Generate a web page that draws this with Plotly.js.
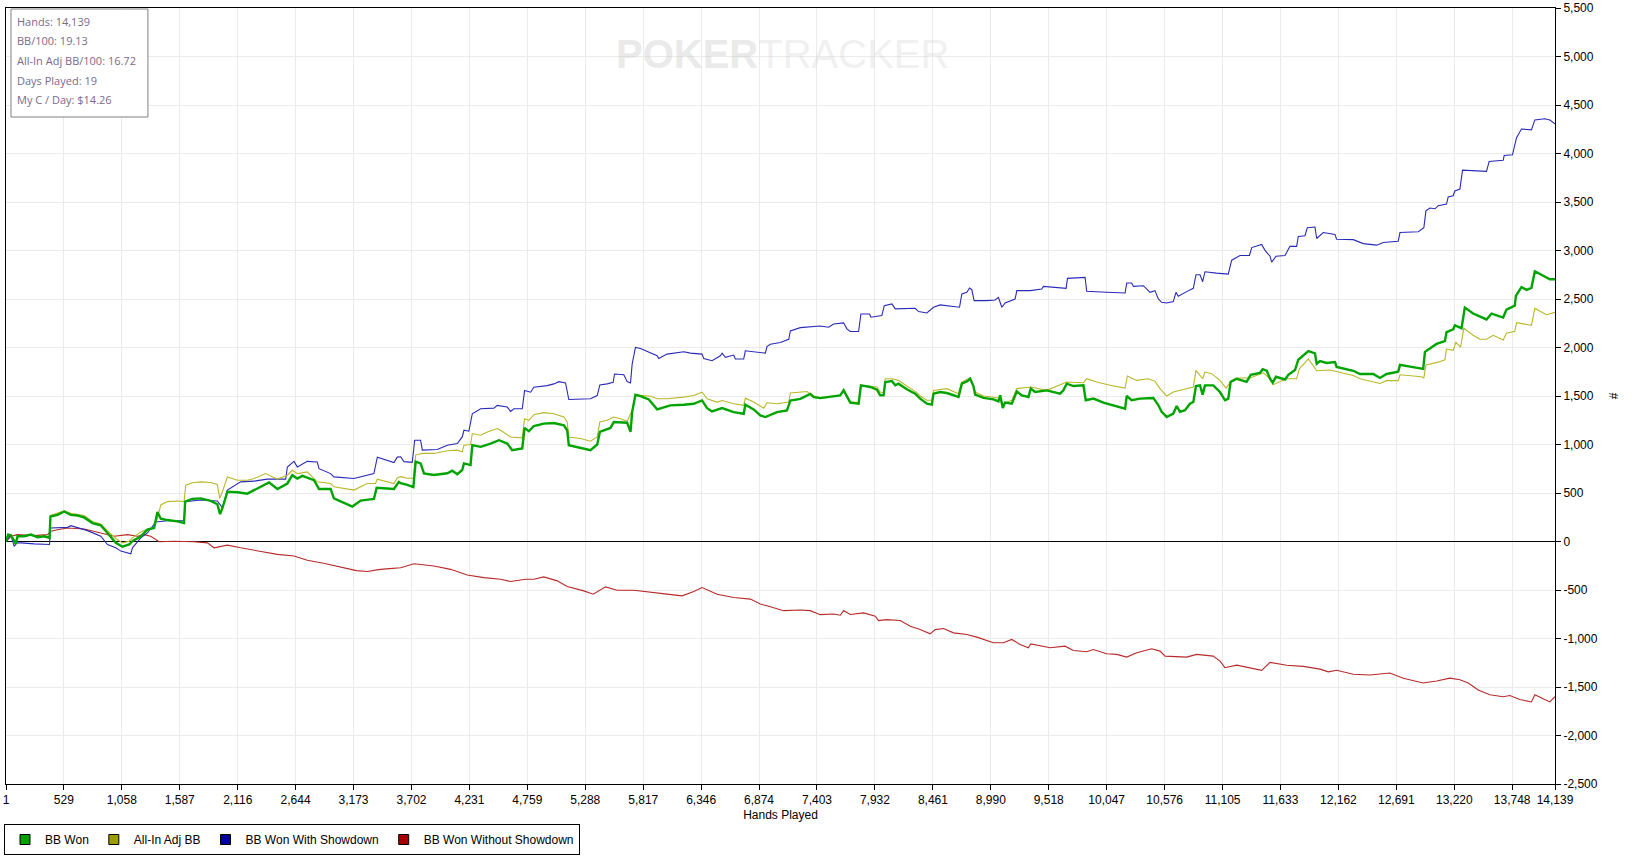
<!DOCTYPE html>
<html>
<head>
<meta charset="utf-8">
<script src="https://cdn.plot.ly/plotly-3.0.1.min.js"></script>
<style>html,body{margin:0;padding:0;background:#fff;}#chart{width:1635px;height:863px;}</style>
</head>
<body>
<div id="chart"></div>
<script>
// ---------- data ----------
const xTickVals = [1,529,1058,1587,2116,2644,3173,3702,4231,4759,5288,5817,6346,6874,7403,7932,8461,8990,9518,10047,10576,11105,11633,12162,12691,13220,13748,14139];
const xTickText = ["1","529","1,058","1,587","2,116","2,644","3,173","3,702","4,231","4,759","5,288","5,817","6,346","6,874","7,403","7,932","8,461","8,990","9,518","10,047","10,576","11,105","11,633","12,162","12,691","13,220","13,748","14,139"];
const yTickVals = [-2500,-2000,-1500,-1000,-500,0,500,1000,1500,2000,2500,3000,3500,4000,4500,5000,5500];
const yTickText = ["-2,500","-2,000","-1,500","-1,000","-500","0","500","1,000","1,500","2,000","2,500","3,000","3,500","4,000","4,500","5,000","5,500"];

const seriesNames = ["BB Won","All-In Adj BB","BB Won With Showdown","BB Won Without Showdown"];

const bbWonHands = [1,21,46,76,91,106,167,228,289,350,398,407,471,532,593,654,714,790,866,927,1003,1064,1125,1155,1231,1292,1353,1383,1414,1474,1566,1626,1636,1702,1778,1870,1930,1955,1976,2022,2113,2204,2265,2356,2402,2478,2569,2614,2660,2706,2812,2858,2964,2994,3086,3162,3238,3359,3384,3450,3542,3587,
3603,3664,3719,3740,3785,3816,3907,4029,4074,4120,4165,4181,4241,4257,4333,4424,4500,4576,4621,4713,4734,4773,4819,4910,5001,5093,5123,5138,5245,5336,5397,5421,5518,5549,5670,5701,5716,5746,5792,5868,5944,6005,6065,6187,6278,6354,6400,6445,6537,6643,6734,6749,6825,6886,6932,7038,7129,7160,7251,7342,7373,7433,
7524,7615,7646,7676,7707,7783,7804,7889,7950,7980,8011,8026,8087,8117,8147,8223,8299,8345,8406,8451,8467,8527,8588,8695,8725,8771,8801,8831,8847,8923,9014,9059,9075,9099,9120,9181,9227,9272,9333,9354,9394,9500,9622,9652,9683,9743,9835,9856,9926,10017,10078,10215,10230,10275,10351,10473,10519,10549,10595,10655,10686,10716,10762,10807,10838,10862,10899,10923,10944,11020,11081,11127,11157,11178,
11234,11325,11362,11447,11471,11508,11538,11562,11593,11675,11705,11766,11796,11842,11888,11948,11964,11994,12055,12131,12146,12298,12359,12480,12541,12602,12708,12724,12845,12936,12952,13058,13134,13149,13210,13225,13286,13316,13392,13453,13514,13560,13666,13696,13772,13782,13833,13879,13924,13955,14000,14092,14139];
const bbWonValues = [0,71,65,3,-24,54,54,71,44,54,37,258,275,309,275,268,248,190,167,88,-14,-54,-31,3,54,122,139,303,235,221,207,190,411,439,445,418,384,282,343,513,507,493,527,581,609,541,598,683,649,677,632,541,541,445,394,360,422,439,554,547,541,615,
601,584,560,823,805,703,686,703,730,693,737,805,788,993,976,1010,1044,1010,942,959,1171,1137,1191,1215,1222,1198,1147,993,966,942,1000,1130,1171,1232,1225,1130,1334,1512,1498,1464,1362,1386,1403,1410,1420,1454,1375,1341,1375,1334,1317,1410,1362,1300,1283,1334,1352,1454,1471,1522,1488,1478,
1490,1507,1558,1490,1432,1421,1610,1593,1565,1507,1507,1644,1654,1610,1627,1569,1524,1473,1421,1411,1524,1541,1531,1490,1627,1651,1678,1603,1514,1480,1466,1445,1507,1377,1432,1421,1548,1507,1490,1576,1541,1558,1524,1558,1627,1603,1610,1456,1473,1432,1411,1370,1500,1456,1473,1480,1404,1336,1284,1319,1397,1336,1353,1421,1438,1603,1610,1514,1610,1610,1541,1456,1473,1644,
1678,1646,1719,1739,1776,1760,1678,1637,1698,1670,1719,1768,1874,1914,1963,1939,1833,1861,1841,1849,1800,1760,1727,1727,1686,1727,1751,1821,1800,1780,1955,2037,2065,2159,2187,2228,2199,2411,2350,2322,2289,2350,2309,2391,2432,2533,2623,2594,2615,2786,2757,2704,2704];

const allInHands = [1,21,46,76,91,106,167,228,289,350,398,407,471,532,593,654,714,790,866,927,1003,1064,1125,1155,1231,1292,1353,1383,1414,1474,1566,1626,1642,1702,1778,1870,1930,1952,1976,2022,2113,2204,2265,2371,2478,2569,2614,2660,2751,2842,2964,2994,3177,3298,3374,3390,3542,3572,
3603,3664,3719,3740,3801,3907,4029,4120,4165,4181,4241,4257,4333,4393,4485,4515,4606,4713,4734,4773,4819,4910,5001,5093,5123,5138,5245,5336,5397,5421,5488,5549,5609,5670,5716,5746,5792,5883,5944,6035,6187,6278,6354,6400,6491,6537,6643,6734,6749,6825,6917,6947,7038,7145,7160,7251,7312,7357,7433,
7615,7646,7676,7707,7783,7804,7950,7980,8011,8026,8087,8147,8223,8299,8345,8406,8451,8467,8588,8695,8725,8801,8847,8923,9059,9099,9181,9227,9354,9500,9683,9835,9865,9956,10078,10215,10236,10321,10427,10488,10534,10595,10655,10777,10838,10862,10923,10944,11005,11081,11136,11187,
11234,11356,11477,11538,11568,11690,11781,11806,11888,11964,12085,12298,12359,12541,12602,12708,12724,12921,12942,12961,13073,13134,13149,13210,13234,13277,13307,13392,13453,13514,13575,13666,13696,13772,13788,13924,13955,14061,14139];
const allInValues = [0,71,65,3,-24,54,58,75,48,58,40,268,292,316,292,282,268,207,180,112,31,-14,3,37,99,129,146,241,377,411,418,411,581,605,615,609,588,445,513,666,632,632,649,700,643,683,734,700,717,615,598,564,530,598,598,643,598,656,
669,652,652,891,908,908,935,942,925,993,1000,1113,1096,1130,1164,1147,1078,1068,1266,1249,1307,1328,1317,1283,1232,1078,1061,1034,1078,1232,1249,1283,1266,1239,1351,1512,1505,1498,1471,1471,1488,1505,1539,1471,1437,1454,1420,1403,1478,1437,1375,1430,1420,1437,1532,1539,1546,1505,1485,
1507,1569,1507,1439,1432,1610,1593,1541,1534,1678,1678,1661,1603,1548,1500,1456,1456,1558,1576,1524,1644,1688,1541,1500,1480,1421,1456,1576,1593,1558,1644,1637,1678,1644,1610,1582,1706,1661,1678,1651,1576,1500,1541,1576,1593,1764,1678,1747,1730,1661,1582,1661,
1686,1686,1739,1678,1617,1678,1678,1780,1882,1760,1768,1711,1678,1629,1658,1658,1719,1698,1686,1821,1849,1874,1984,1971,2053,2004,2199,2126,2085,2085,2126,2077,2146,2167,2256,2228,2403,2338,2362];

const showdownHands = [1,46,61,76,100,137,258,380,398,407,562,593,684,745,866,927,1003,1049,1140,1155,1231,1292,1368,1474,1626,1636,1778,1930,1976,2022,2143,2265,2386,2554,2569,2630,2660,2751,2842,2858,2964,2994,3177,3359,3390,3542,3572,
3603,3633,3709,3731,3785,3801,3937,4029,4120,4165,4181,4226,4257,4333,4454,4485,4576,4606,4637,4713,4734,4789,4819,4941,5001,5047,5108,5138,5336,5397,5421,5488,5543,5555,5640,5670,5701,5716,5746,5792,5868,5944,5959,6035,6187,6248,6354,6369,6445,6521,6537,6567,6643,6658,6734,6749,6932,6947,6977,7069,7145,7160,7251,7342,7433,
7509,7555,7646,7676,7707,7783,7804,7883,7895,7995,8017,8087,8117,8299,8330,8406,8467,8527,8704,8725,8771,8795,8816,8837,8953,9029,9059,9090,9120,9211,9227,9348,9455,9470,9677,9689,9850,9865,10047,10215,10230,10275,10291,10382,10443,10488,10519,10549,10595,10655,10680,10701,10777,10838,10862,10899,10923,10944,11050,11157,
11188,11264,11350,11371,11462,11492,11538,11553,11593,11675,11720,11781,11796,11857,11878,11948,11964,12024,12131,12146,12298,12389,12511,12572,12708,12724,12891,12942,12961,12997,13043,13073,13149,13164,13210,13225,13271,13295,13514,13538,13666,13675,13751,13788,13833,13924,13955,14046,14092,14139];
const showdownValues = [0,71,3,-51,-14,-14,-24,-31,-31,139,146,163,129,112,54,-31,-65,-99,-126,-65,37,88,201,214,214,411,428,418,350,530,615,622,643,643,768,826,768,826,819,751,700,666,649,700,870,813,870,
874,823,816,1044,1044,942,949,993,1010,1078,1147,1137,1317,1369,1375,1403,1386,1341,1369,1369,1556,1539,1590,1607,1625,1648,1635,1464,1471,1505,1614,1625,1642,1727,1720,1648,1635,1829,2000,1990,1949,1915,1887,1932,1956,1942,1932,1887,1864,1915,1942,1898,1922,1881,1881,1966,1942,2010,2034,2051,2085,2171,2205,2215,2222,
2209,2243,2254,2192,2165,2165,2346,2346,2312,2329,2432,2449,2398,2404,2370,2356,2415,2439,2415,2552,2569,2613,2596,2483,2483,2490,2517,2415,2459,2500,2586,2586,2603,2630,2610,2713,2723,2579,2569,2562,2665,2665,2630,2637,2569,2586,2500,2466,2459,2473,2569,2528,2576,2610,2750,2750,2678,2781,2767,2757,
2900,2949,2949,3030,3063,3002,2941,2880,2941,2949,3043,3043,3144,3152,3234,3242,3124,3185,3165,3116,3112,3071,3055,3083,3096,3185,3193,3234,3409,3438,3430,3462,3478,3552,3564,3613,3633,3829,3816,3918,3930,3979,3987,4163,4252,4244,4346,4358,4346,4305];

const noShowdownHands = [1,46,106,258,380,410,471,562,714,806,866,988,1110,1201,1262,1322,1398,1535,1718,1839,1900,2022,2143,2326,2478,2630,2751,2900,3050,3200,3300,3400,3500,
3603,3725,3907,4059,4211,4363,4515,4606,4743,4819,4910,5032,5123,5275,5360,5473,5579,5731,5883,6035,6172,6278,6354,6491,6643,6795,6886,6947,7099,7251,7342,7433,
7555,7615,7646,7707,7828,7935,7965,8041,8163,8254,8345,8436,8482,8558,8649,8771,8862,9014,9105,9181,9257,9333,9354,9531,9667,9743,9865,9926,10047,10139,10230,10321,10458,10534,10580,10777,10868,11020,11081,11127,
11234,11325,11462,11538,11690,11842,11994,12070,12146,12298,12450,12632,12754,12936,13058,13180,13271,13347,13438,13544,13666,13727,13818,13924,13955,14031,14092,14139];
const noShowdownValues = [0,54,71,61,71,105,122,139,129,105,88,54,71,54,71,54,-3,3,-3,-14,-65,-37,-65,-99,-133,-150,-194,-225,-262,-300,-310,-290,-280,
-270,-229,-253,-287,-345,-372,-389,-413,-389,-389,-365,-406,-464,-509,-543,-468,-502,-502,-526,-543,-560,-516,-475,-543,-577,-594,-645,-662,-713,-706,-713,-754,
-747,-760,-712,-753,-736,-770,-815,-805,-815,-873,-908,-952,-908,-897,-942,-959,-986,-1044,-1044,-1010,-1062,-1096,-1055,-1096,-1079,-1123,-1137,-1113,-1158,-1164,-1192,-1147,-1106,-1130,-1182,-1192,-1164,-1182,-1233,-1301,
-1275,-1295,-1328,-1246,-1275,-1287,-1316,-1344,-1328,-1369,-1377,-1356,-1409,-1458,-1438,-1409,-1426,-1458,-1531,-1580,-1601,-1588,-1629,-1654,-1580,-1621,-1654,-1600];

const infoLines = ["Hands: 14,139","BB/100: 19.13","All-In Adj BB/100: 16.72","Days Played: 19","My C / Day: $14.26"];

// ---------- layout helpers ----------
const W = 1635, H = 863, ML = 5, MR = 80, MT = 8, MB = 79;
const PW = W - ML - MR, PH = H - MT - MB;
const px = x => (x - ML) / PW;
const py = y => (H - MB - y) / PH;

const lineColors = ["#00a400", "#b8b828", "#2a2ab8", "#b82a2a"];
const boxColors  = ["#00a000", "#9c9c00", "#00009c", "#a80000"];
const FONT = "Liberation Sans, Arial, sans-serif";

const lineSeries = [
  {x: noShowdownHands, y: noShowdownValues, c: lineColors[3], w: 1.1},
  {x: showdownHands,   y: showdownValues,   c: lineColors[2], w: 1.1},
  {x: allInHands,      y: allInValues,      c: lineColors[1], w: 1.1},
  {x: bbWonHands,      y: bbWonValues,      c: lineColors[0], w: 2.4}
];
const traces = lineSeries.map(s => ({
  type: "scatter", mode: "lines", x: s.x, y: s.y,
  line: {color: s.c, width: s.w}, showlegend: false, hoverinfo: "skip"
}));
seriesNames.forEach((n, i) => traces.push({
  type: "scatter", mode: "markers", x: [null], y: [null], name: n,
  marker: {symbol: "square", size: 10, color: boxColors[i], line: {color: "#000", width: 1}},
  hoverinfo: "skip", showlegend: true
}));

const annotations = infoLines.map((t, i) => ({
  xref: "paper", yref: "paper", x: px(14), y: py(21 + i * 19.7),
  xanchor: "left", yanchor: "middle", showarrow: false, text: t,
  font: {family: "Open Sans, Noto Sans, sans-serif", size: 11, color: "#7b6a8c"}
}));
annotations.push({
  xref: "paper", yref: "paper", x: px(782), y: py(54), xanchor: "center", yanchor: "middle",
  showarrow: false,
  text: '<span style="color:rgba(200,200,200,0.4)"><b>POKER</b></span><span style="color:rgba(205,205,205,0.3)">TRACKER</span>',
  font: {family: FONT, size: 40}
});

const layout = {
  width: W, height: H,
  margin: {l: ML, r: MR, t: MT, b: MB, pad: 0},
  paper_bgcolor: "#fff", plot_bgcolor: "#fff",
  font: {family: FONT, size: 12, color: "#000"},
  xaxis: {
    range: [1, 14139], tickmode: "array", tickvals: xTickVals, ticktext: xTickText,
    showgrid: true, gridcolor: "#ebebeb", gridwidth: 1, zeroline: false,
    showline: true, linecolor: "#000", linewidth: 1, mirror: true,
    ticks: "outside", ticklen: 5, tickcolor: "#000", tickwidth: 1,
    ticklabeloverflow: "allow",
    tickfont: {family: FONT, size: 12, color: "#000"},
    title: {text: "Hands Played", font: {family: FONT, size: 12, color: "#000"}, standoff: 4},
    fixedrange: true
  },
  yaxis: {
    side: "right", range: [-2500, 5500], tickmode: "array", tickvals: yTickVals, ticktext: yTickText,
    showgrid: true, gridcolor: "#ebebeb", gridwidth: 1,
    zeroline: true, zerolinecolor: "#000", zerolinewidth: 1,
    showline: true, linecolor: "#000", linewidth: 1, mirror: true,
    ticks: "outside", ticklen: 5, tickcolor: "#000", tickwidth: 1,
    ticklabeloverflow: "allow",
    tickfont: {family: FONT, size: 12, color: "#000"},
    title: {text: "#", font: {family: FONT, size: 12, color: "#000"}, standoff: 12},
    fixedrange: true
  },
  showlegend: true,
  legend: {
    orientation: "h", x: px(4), xanchor: "left", y: py(824), yanchor: "top",
    bgcolor: "#fff", bordercolor: "#000", borderwidth: 1,
    font: {family: FONT, size: 12, color: "#000"}, itemwidth: 30, traceorder: "normal"
  },
  shapes: [{
    type: "rect", xref: "paper", yref: "paper",
    x0: px(10), x1: px(147), y0: py(117), y1: py(9),
    line: {color: "#808080", width: 1}, fillcolor: "#fff", layer: "above"
  }],
  annotations: annotations
};

Plotly.newPlot("chart", traces, layout, {displayModeBar: false, staticPlot: true});
</script>
</body>
</html>
